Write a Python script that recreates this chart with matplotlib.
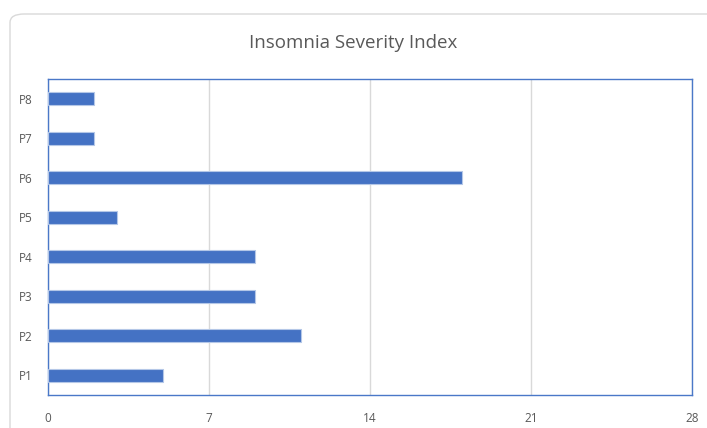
import matplotlib.pyplot as plt
from matplotlib.patches import FancyBboxPatch

# datos del gráfico
participants = ["P1", "P2", "P3", "P4", "P5", "P6", "P7", "P8"]
isi_scores = [5, 11, 9, 9, 3, 18, 2, 2]
x_ticks = [0, 7, 14, 21, 28]

plt.rcParams["font.family"] = ["Open Sans", "DejaVu Sans"]

fig = plt.figure(figsize=(7.07, 4.28), dpi=100)

# borde exterior redondeado del gráfico
frame = FancyBboxPatch((10 / 707, -0.2), 1.2, 1.2 - 14 / 428,
                       boxstyle="round,pad=0,rounding_size=0.02",
                       transform=fig.transFigure, facecolor="white",
                       edgecolor="#d9d9d9", linewidth=1.0, zorder=-5)
fig.patches.append(frame)

ax = fig.add_axes([48 / 707, 1 - 395 / 428, (692 - 48) / 707, (395 - 79) / 428])
ax.set_facecolor("none")

ax.barh(participants, isi_scores, height=0.32, color="#4472c4",
        edgecolor="#b4c7e7", linewidth=0.8, zorder=3)

ax.set_xlim(0, 28)
ax.set_ylim(-0.5, len(participants) - 0.5)
ax.set_xticks(x_ticks)
ax.xaxis.grid(True, color="#d9d9d9", linewidth=1.0, zorder=0)
ax.set_axisbelow(True)

for side in ax.spines.values():
    side.set_color("#4a78c8")
    side.set_linewidth(1.0)

ax.tick_params(axis="both", length=0, labelsize=8.5, labelcolor="#595959")
ax.tick_params(axis="x", pad=12)
ax.tick_params(axis="y", pad=11)

fig.text(0.5, 1 - 43 / 428, "Insomnia Severity Index", ha="center", va="center",
         fontsize=13.5, color="#595959")

fig.savefig("out.png", dpi=100)
